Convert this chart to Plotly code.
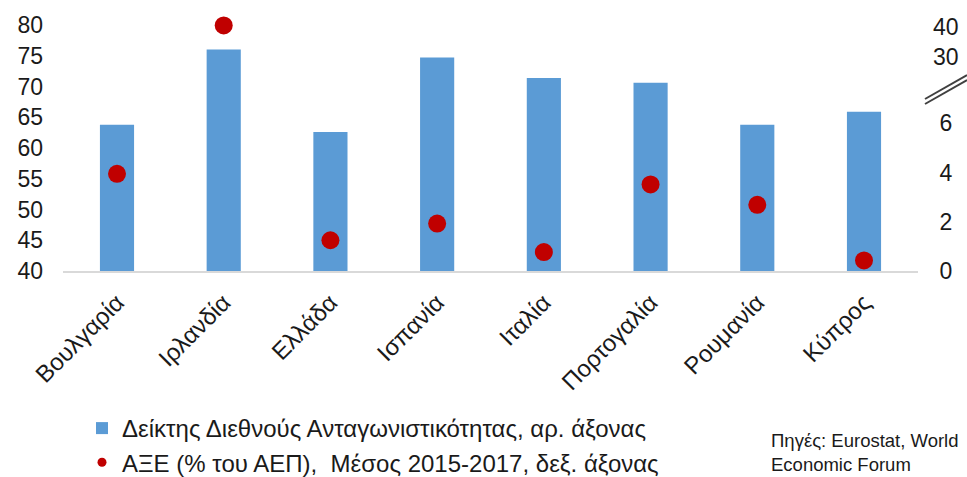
import plotly.graph_objects as go

# Countries, competitiveness index (left axis) and FDI % of GDP (right axis)
countries = ["Βουλγαρία", "Ιρλανδία", "Ελλάδα", "Ισπανία", "Ιταλία",
             "Πορτογαλία", "Ρουμανία", "Κύπρος"]
competitiveness = [63.8, 76.0, 62.6, 74.7, 71.4, 70.6, 63.8, 65.9]
fdi_gdp = [3.95, 40.5, 1.25, 1.93, 0.77, 3.52, 2.69, 0.43]

left_ticks = [40, 45, 50, 55, 60, 65, 70, 75, 80]
right_ticks = [0, 2, 4, 6, 30, 40]

BAR_NAME = "Δείκτης Διεθνούς Ανταγωνιστικότητας, αρ. άξονας"
DOT_NAME = "ΑΞΕ (% του ΑΕΠ),  Μέσος 2015-2017, δεξ. άξονας"

BAR_COLOR = "#5B9BD5"
DOT_COLOR = "#C00000"
TEXT_COLOR = "#1a1a1a"
FONT = "Liberation Sans, Arial, sans-serif"

W, H = 967, 477
ML, MR, MT, MB = 63, 49, 25, 206


def fdi_axis(v):
    """Broken right axis: linear 0-7, then a compressed 30-40 segment."""
    return v if v <= 7 else 8.7 + (v - 30) * 0.122


def tick_label(v):
    # pad single digits so the right-hand labels sit centred
    s = str(v)
    return "\u00a0" + s if len(s) == 1 else s


def px_x(x):
    return (x - ML) / (W - ML - MR)


def px_y(y):
    return (H - MB - y) / (H - MT - MB)


fig = go.Figure()

fig.add_trace(go.Bar(
    x=countries, y=competitiveness,
    marker=dict(color=BAR_COLOR, line=dict(width=0)),
    name=BAR_NAME, legendgroup="a", yaxis="y",
))

fig.add_trace(go.Scatter(
    x=countries, y=[fdi_axis(v) for v in fdi_gdp],
    mode="markers", cliponaxis=False,
    marker=dict(color=DOT_COLOR, size=18, line=dict(width=0)),
    name=DOT_NAME, legendgroup="b", yaxis="y2", showlegend=False,
    customdata=fdi_gdp, hovertemplate="%{x}: %{customdata}<extra></extra>",
))

# Smaller dot used only for the legend key
fig.add_trace(go.Scatter(
    x=[None], y=[None], mode="markers",
    marker=dict(color=DOT_COLOR, size=9),
    name=DOT_NAME, legendgroup="b", yaxis="y2", hoverinfo="skip",
))

# Axis break marks on the right axis
for off in (0, 5):
    fig.add_shape(type="line", xref="paper", yref="paper",
                  x0=px_x(925), y0=px_y(99 + off), x1=px_x(967), y1=px_y(75 + off),
                  line=dict(color="#404040", width=2))

fig.add_annotation(
    xref="paper", yref="paper", x=px_x(769), y=px_y(452),
    xanchor="left", yanchor="middle", align="left", showarrow=False,
    text="Πηγές: Eurostat, World<br>Economic Forum",
    font=dict(family=FONT, size=18.5, color=TEXT_COLOR),
)

fig.update_layout(
    width=W, height=H,
    margin=dict(l=ML, r=MR, t=MT, b=MB, autoexpand=False),
    paper_bgcolor="white", plot_bgcolor="white",
    bargap=0.68,
    font=dict(family=FONT, color=TEXT_COLOR),
    xaxis=dict(
        showgrid=False, tickangle=-45, ticks="", automargin=False,
        showline=True, linecolor="#D9D9D9", linewidth=2,
        tickfont=dict(size=24, family=FONT, color=TEXT_COLOR),
        ticklabelstandoff=6,
    ),
    yaxis=dict(
        range=[40, 80], tickvals=left_ticks, showgrid=False, zeroline=False,
        showline=False, ticks="", automargin=False,
        tickfont=dict(size=23, family=FONT, color=TEXT_COLOR),
        ticklabelstandoff=19,
    ),
    yaxis2=dict(
        range=[0, 10], overlaying="y", side="right", automargin=False,
        tickvals=[fdi_axis(t) for t in right_ticks],
        ticktext=[tick_label(t) for t in right_ticks],
        showgrid=False, zeroline=False, showline=False, ticks="",
        tickfont=dict(size=23, family=FONT, color=TEXT_COLOR),
        ticklabelstandoff=14,
    ),
    showlegend=True,
    legend=dict(
        xref="container", yref="container",
        x=82 / W, y=(H - 406) / H, xanchor="left", yanchor="top",
        orientation="v", tracegroupgap=0, itemwidth=30,
        font=dict(family=FONT, size=24, color=TEXT_COLOR),
        bgcolor="rgba(0,0,0,0)",
    ),
)

fig.write_html("out.html")
